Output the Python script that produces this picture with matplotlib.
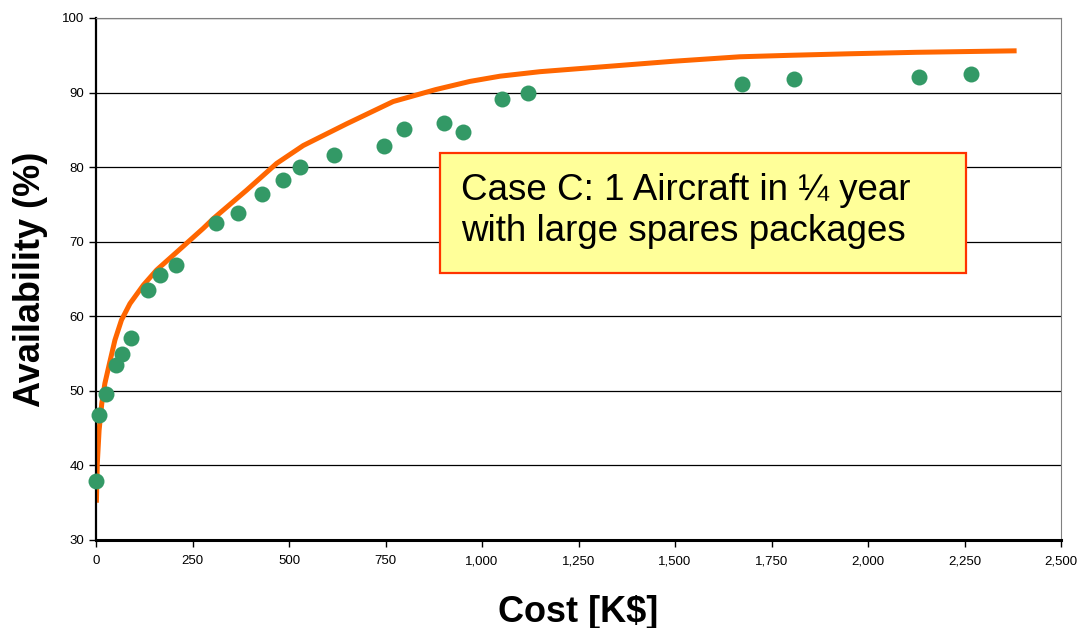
import matplotlib
matplotlib.use("Agg")
import matplotlib.pyplot as plt
from matplotlib.ticker import FuncFormatter
from matplotlib.patches import Rectangle

plt.rcParams['font.family'] = ['Liberation Sans', 'DejaVu Sans']

# Spares-package optimisation: cost vs. availability points
cost_points = [0, 8, 26, 52, 67, 91, 135, 166, 207, 311, 368, 430, 484, 528,
               617, 746, 798, 902, 951, 1052, 1119, 1674, 1808, 2132, 2267]
avail_points = [37.9, 46.8, 49.6, 53.5, 54.9, 57.1, 63.5, 65.5, 66.9, 72.5,
                73.8, 76.4, 78.3, 80.0, 81.6, 82.8, 85.1, 85.9, 84.7, 89.2,
                89.9, 91.1, 91.8, 92.1, 92.5]

# Efficient-frontier curve
curve_cost = [1, 3.4, 8, 15, 23, 35, 49, 66, 88, 123, 157, 209, 278, 304,
              390, 468, 537, 649, 770, 880, 969, 1047, 1150, 1323, 1496,
              1668, 1800, 1950, 2126, 2385]
curve_avail = [35.0, 40.3, 44.7, 48.3, 51.0, 53.7, 56.8, 59.5, 61.7, 64.2,
               66.2, 68.6, 71.8, 73.1, 76.9, 80.5, 82.9, 85.8, 88.8, 90.4,
               91.5, 92.2, 92.8, 93.5, 94.2, 94.8, 95.0, 95.2, 95.4, 95.6]

x_ticks = [0, 250, 500, 750, 1000, 1250, 1500, 1750, 2000, 2250, 2500]
y_ticks = [30, 40, 50, 60, 70, 80, 90, 100]

annotation_lines = ["Case C: 1 Aircraft in \u00bc year",
                    "with large spares packages"]

W, H = 1086, 628
fig = plt.figure(figsize=(W / 100, H / 100), dpi=100)
ax = fig.add_axes([96 / W, 1 - 540 / H, (1061 - 96) / W, (540 - 18) / H])

ax.set_xlim(0, 2500)
ax.set_ylim(30, 100)
ax.set_xticks(x_ticks)
ax.set_yticks(y_ticks)
ax.xaxis.set_major_formatter(FuncFormatter(lambda v, p: f"{int(v):,}"))

for y in y_ticks[1:]:
    ax.axhline(y, color='black', lw=0.9, zorder=1)

ax.plot(curve_cost, curve_avail, color='#FF6600', lw=3.6, zorder=2,
        solid_joinstyle='round', solid_capstyle='butt')
ax.plot(cost_points, avail_points, 'o', color='#339966', ms=11.5,
        markeredgewidth=0, zorder=3, clip_on=False)

for side in ('top', 'right'):
    ax.spines[side].set_color('#808080')
    ax.spines[side].set_linewidth(0.8)
ax.spines['left'].set_linewidth(1.6)
ax.spines['bottom'].set_linewidth(2.2)
ax.spines['left'].set_color('black')
ax.spines['bottom'].set_color('black')

ax.tick_params(axis='both', direction='out', length=5, width=1,
               labelsize=9.5, colors='black')
ax.tick_params(axis='x', pad=6)

ax.set_xlabel("Cost [K$]", fontsize=26, fontweight='bold', labelpad=20)
ax.set_ylabel("Availability (%)", fontsize=26, fontweight='bold', labelpad=10)


def fig_xy(px, py):
    return px / W, 1 - py / H


# Annotation box
bx0, by0 = fig_xy(440, 273)
bx1, by1 = fig_xy(966, 153)
fig.patches.append(Rectangle((bx0, by0), bx1 - bx0, by1 - by0,
                             transform=fig.transFigure, facecolor='#FFFF99',
                             edgecolor='#FF3300', lw=1.6, zorder=5))
for line, base in zip(annotation_lines, [200, 241]):
    tx, ty = fig_xy(461, base)
    fig.text(tx, ty, line, fontsize=26.5, ha='left', va='baseline', zorder=6)

fig.savefig("out.png", dpi=100)
